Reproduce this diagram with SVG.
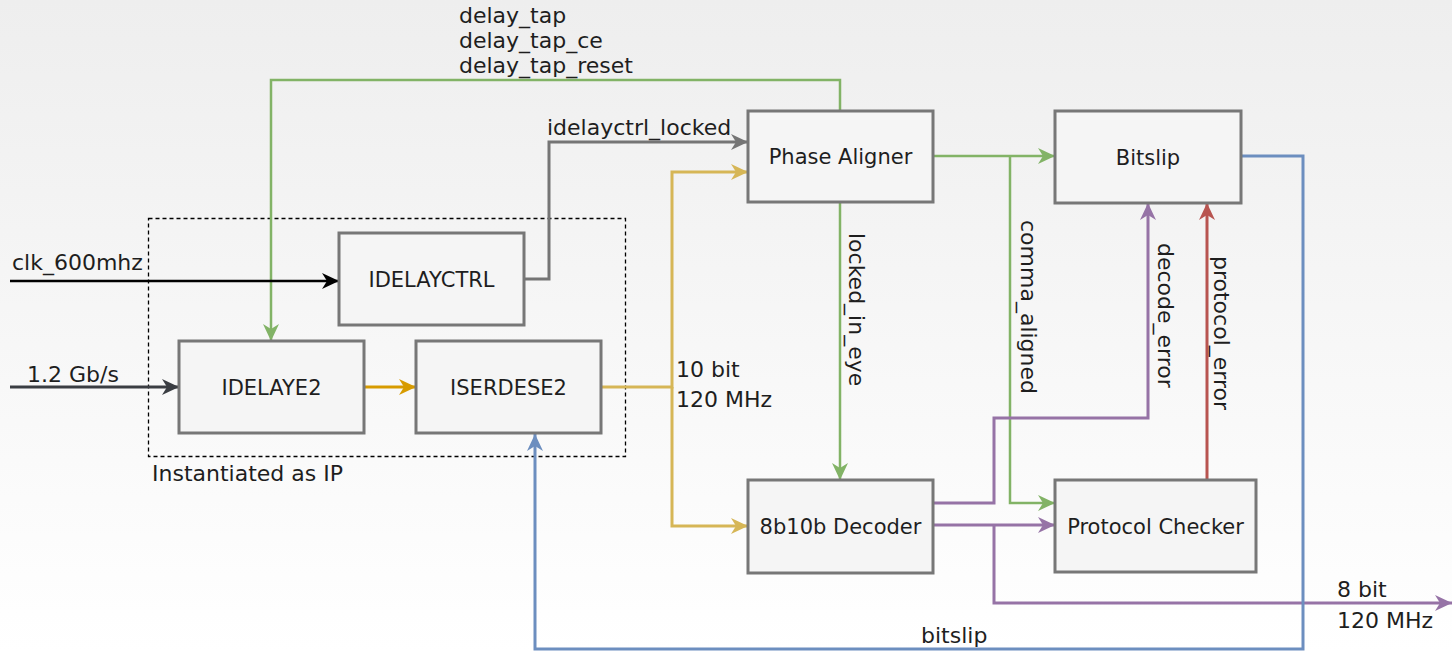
<svg xmlns="http://www.w3.org/2000/svg" width="1452" height="652" viewBox="0 0 1452 652">
<style>
.node rect{fill:#f5f5f5;stroke:#777;stroke-width:3}
text{font-family:"DejaVu Sans","Liberation Sans",sans-serif;font-size:22px;fill:#1e1e1e}
.nt{text-anchor:middle;font-size:21px}
.c{fill:none;stroke-width:2.5;stroke-linejoin:miter}
.g{stroke:#82b366}.gy{stroke:#757575;stroke-width:3}.k{stroke:#000}.dk{stroke:#3a3d42;stroke-width:3}
.o{stroke:#d79b00;stroke-width:3}.y{stroke:#d6b656;stroke-width:3}.p{stroke:#9673a6;stroke-width:3}
.r{stroke:#b85450;stroke-width:3}.b{stroke:#6c8ebf;stroke-width:3}
</style>
<defs>
<linearGradient id="bg" x1="0" y1="0" x2="0" y2="1"><stop offset="0" stop-color="#eeeeee"/><stop offset="1" stop-color="#ffffff"/></linearGradient>
<marker id="mg" markerUnits="userSpaceOnUse" markerWidth="18" markerHeight="18" refX="17" refY="8" orient="auto"><path d="M0,0 L17,8 L0,16 L5,8 Z" fill="#82b366"/></marker>
<marker id="mgy" markerUnits="userSpaceOnUse" markerWidth="18" markerHeight="18" refX="17" refY="8" orient="auto"><path d="M0,0 L17,8 L0,16 L5,8 Z" fill="#757575"/></marker>
<marker id="mk" markerUnits="userSpaceOnUse" markerWidth="18" markerHeight="18" refX="17" refY="8" orient="auto"><path d="M0,0 L17,8 L0,16 L5,8 Z" fill="#000"/></marker>
<marker id="mdk" markerUnits="userSpaceOnUse" markerWidth="18" markerHeight="18" refX="17" refY="8" orient="auto"><path d="M0,0 L17,8 L0,16 L5,8 Z" fill="#3a3d42"/></marker>
<marker id="mo" markerUnits="userSpaceOnUse" markerWidth="18" markerHeight="18" refX="17" refY="8" orient="auto"><path d="M0,0 L17,8 L0,16 L5,8 Z" fill="#d79b00"/></marker>
<marker id="my" markerUnits="userSpaceOnUse" markerWidth="18" markerHeight="18" refX="17" refY="8" orient="auto"><path d="M0,0 L17,8 L0,16 L5,8 Z" fill="#d6b656"/></marker>
<marker id="mp" markerUnits="userSpaceOnUse" markerWidth="18" markerHeight="18" refX="17" refY="8" orient="auto"><path d="M0,0 L17,8 L0,16 L5,8 Z" fill="#9673a6"/></marker>
<marker id="mr" markerUnits="userSpaceOnUse" markerWidth="18" markerHeight="18" refX="17" refY="8" orient="auto"><path d="M0,0 L17,8 L0,16 L5,8 Z" fill="#b85450"/></marker>
<marker id="mb" markerUnits="userSpaceOnUse" markerWidth="18" markerHeight="18" refX="17" refY="8" orient="auto"><path d="M0,0 L17,8 L0,16 L5,8 Z" fill="#6c8ebf"/></marker>
</defs>
<rect x="0" y="0" width="1452" height="652" fill="url(#bg)"/>
<g id="ip-group">
<rect x="148.5" y="218.5" width="477" height="238" fill="none" stroke="#000" stroke-width="1.3" stroke-dasharray="4 3"/>
<text x="152" y="481">Instantiated as IP</text>
</g>
<g id="connectors">
<path class="c g" d="M840,111 V80 H271 V341" marker-end="url(#mg)"/>
<path class="c gy" d="M524,279 H549 V142 H748" marker-end="url(#mgy)"/>
<path class="c k" d="M10,281 H339" marker-end="url(#mk)"/>
<path class="c dk" d="M10,387 H179" marker-end="url(#mdk)"/>
<path class="c o" d="M364,387 H416" marker-end="url(#mo)"/>
<path class="c y" d="M601,387 H672 V172 H748" marker-end="url(#my)"/>
<path class="c y" d="M672,387 V526 H748" marker-end="url(#my)"/>
<path class="c g" d="M840,202 V480" marker-end="url(#mg)"/>
<path class="c g" d="M933,156 H1055" marker-end="url(#mg)"/>
<path class="c g" d="M1010,156 V503 H1055" marker-end="url(#mg)"/>
<path class="c p" d="M933,503 H994 V418 H1148 V203" marker-end="url(#mp)"/>
<path class="c p" d="M933,525 H1055" marker-end="url(#mp)"/>
<path class="c p" d="M994,525 V603 H1452" marker-end="url(#mp)"/>
<path class="c r" d="M1207,480 V203" marker-end="url(#mr)"/>
<path class="c b" d="M1241,156 H1303 V649 H535 V434" marker-end="url(#mb)"/>
<text x="459" y="22.5">delay_tap</text>
<text x="459" y="47.5">delay_tap_ce</text>
<text x="459" y="72.5">delay_tap_reset</text>
<text x="547" y="135">idelayctrl_locked</text>
<text x="12" y="270">clk_600mhz</text>
<text x="27" y="382">1.2 Gb/s</text>
<text x="676" y="377">10 bit</text>
<text x="676" y="407">120 MHz</text>
<text transform="translate(849,233) rotate(90)">locked_in_eye</text>
<text transform="translate(1021,220) rotate(90)">comma_aligned</text>
<text transform="translate(1158,243) rotate(90)">decode_error</text>
<text transform="translate(1214,256) rotate(90)">protocol_error</text>
<text x="1337" y="597">8 bit</text>
<text x="1337" y="628">120 MHz</text>
<text x="921" y="643">bitslip</text>
</g>
<g id="idelayctrl" class="node"><rect x="339" y="233" width="185" height="92"/><text class="nt" x="431.5" y="286.5">IDELAYCTRL</text></g>
<g id="idelaye2" class="node"><rect x="179" y="341" width="185" height="92"/><text class="nt" x="271.5" y="394.5">IDELAYE2</text></g>
<g id="iserdese2" class="node"><rect x="416" y="341" width="185" height="92"/><text class="nt" x="508.5" y="394.5">ISERDESE2</text></g>
<g id="phase-aligner" class="node"><rect x="748" y="111" width="185" height="91"/><text class="nt" x="840.5" y="163.5">Phase Aligner</text></g>
<g id="bitslip" class="node"><rect x="1055" y="111" width="186" height="92"/><text class="nt" x="1148" y="164.5">Bitslip</text></g>
<g id="decoder" class="node"><rect x="748" y="480" width="185" height="93"/><text class="nt" x="840.5" y="534">8b10b Decoder</text></g>
<g id="protocol-checker" class="node"><rect x="1055" y="480" width="201" height="92"/><text class="nt" x="1155.5" y="533.5">Protocol Checker</text></g>
</svg>
